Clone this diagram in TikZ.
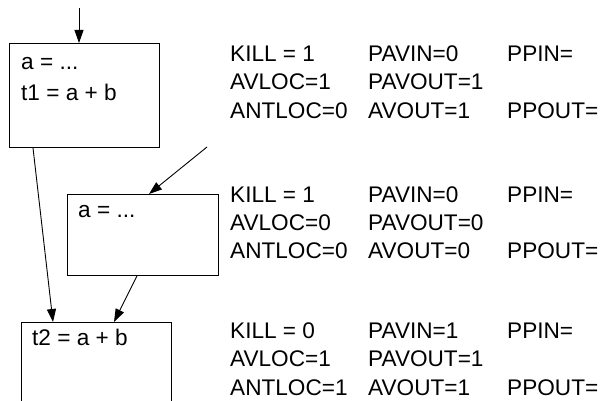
\documentclass[tikz,border=0pt]{standalone}
\usepackage{fontspec}
\setmainfont{Liberation Sans}
\usetikzlibrary{arrows.meta}
\begin{document}
\begin{tikzpicture}[x=1pt,y=-1pt,
  blk/.style={draw,line width=0.9pt,inner sep=0pt,anchor=north west},
  txt/.style={anchor=base west,inner sep=0pt,font=\fontsize{22.6}{27}\selectfont},
  arr/.style={line width=0.9pt,-{Triangle[length=13pt,width=9pt]}},
  ln/.style={line width=0.9pt}]
\useasboundingbox (0,0) rectangle (602,401);
\clip (0,0) rectangle (602,401);
% blocks
\node[blk,minimum width=150pt,minimum height=104pt] (b1) at (9,43) {};
\node[blk,minimum width=151pt,minimum height=81pt] (b2) at (67,194) {};
\node[blk,minimum width=150pt,minimum height=110pt] (b3) at (21,322) {};
% block texts
\node[txt] (b1a) at (21,70) {a = ...};
\node[txt] (b1b) at (21,101) {t1 = a + b};
\node[txt] (b2a) at (78,217) {a = ...};
\node[txt] (b3a) at (32,345) {t2 = a + b};
% connectors
\coordinate (s1) at (79,8);
\coordinate (s2) at (207,147);
\draw[arr] (s1) -- (s1 |- b1.north);
\draw[arr] (s2) -- ([xshift=82pt]b2.north west);
\draw[arr] ([xshift=24pt]b1.south west) -- ([xshift=32pt]b3.north west);
\draw[arr] ([xshift=70pt]b2.south west) -- ([xshift=93pt]b3.north west);
% data-flow values, block 1
\node[txt] (k1) at (230,62) {KILL = 1};
\node[txt] (pi1) at (368,62) {PAVIN=0};
\node[txt] (pp1) at (507,62) {PPIN=};
\node[txt] (al1) at (230,90) {AVLOC=1};
\node[txt] (po1) at (368,90) {PAVOUT=1};
\node[txt] (an1) at (230,118) {ANTLOC=0};
\node[txt] (ao1) at (368,118) {AVOUT=1};
\node[txt] (pq1) at (507,118) {PPOUT=};
% block 2
\node[txt] (k2) at (230,202) {KILL = 1};
\node[txt] (pi2) at (368,202) {PAVIN=0};
\node[txt] (pp2) at (507,202) {PPIN=};
\node[txt] (al2) at (230,230) {AVLOC=0};
\node[txt] (po2) at (368,230) {PAVOUT=0};
\node[txt] (an2) at (230,258) {ANTLOC=0};
\node[txt] (ao2) at (368,258) {AVOUT=0};
\node[txt] (pq2) at (507,258) {PPOUT=};
% block 3
\node[txt] (k3) at (230,338) {KILL = 0};
\node[txt] (pi3) at (368,338) {PAVIN=1};
\node[txt] (pp3) at (507,338) {PPIN=};
\node[txt] (al3) at (230,366) {AVLOC=1};
\node[txt] (po3) at (368,366) {PAVOUT=1};
\node[txt] (an3) at (230,395) {ANTLOC=1};
\node[txt] (ao3) at (368,395) {AVOUT=1};
\node[txt] (pq3) at (507,395) {PPOUT=};
\end{tikzpicture}
\end{document}
